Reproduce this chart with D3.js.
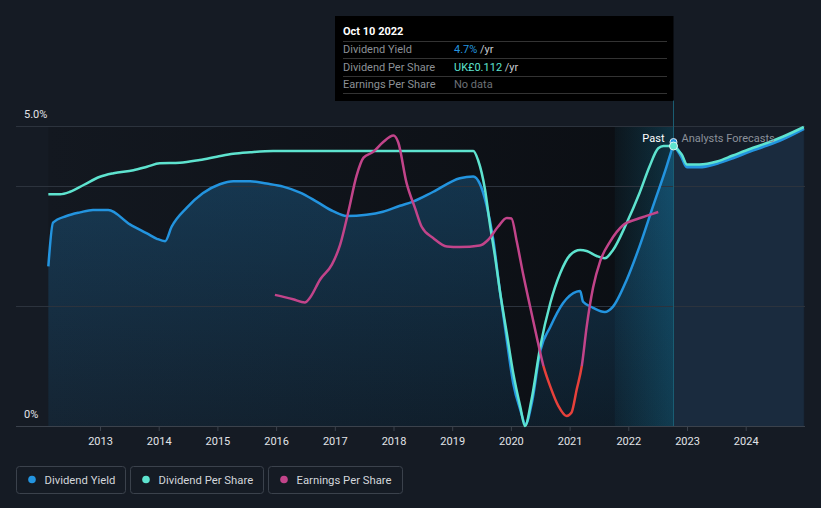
<!DOCTYPE html>
<html><head><meta charset="utf-8">
<script src="https://cdn.jsdelivr.net/npm/d3@7"></script>
<style>
html,body{margin:0;padding:0;background:#151b24;}
svg{display:block;font-family:Roboto,"Noto Sans",sans-serif;}
</style></head><body>
<svg id="c" width="821" height="508"></svg>
<script>
// ---------- DATA ----------
const yearTicks = [2013,2014,2015,2016,2017,2018,2019,2020,2021,2022,2023,2024];
const yieldTickLabels = ["0%","5.0%"];
const gridValues = [2,4,5];

const yieldYears = [2012.12,2012.2,2012.43,2012.66,2012.88,2013.14,2013.51,2013.8,2013.97,2014.11,2014.22,2014.48,2014.75,2015.04,2015.27,2015.56,2015.84,2016.12,2016.41,2016.69,2016.97,2017.2,2017.54,2017.82,2018.11,2018.33,2018.67,2019.13,2019.36,2019.47,2019.59,2019.7,2019.81,2019.93,2020.04,2020.16,2020.25,2020.36,2020.5,2020.67,2020.89,2021.12,2021.18,2021.23,2021.4,2021.6,2021.74,2021.97,2022.19,2022.42,2022.65,2022.77];
const yieldValues = [2.66,3.39,3.5,3.56,3.6,3.6,3.36,3.21,3.12,3.08,3.32,3.64,3.88,4.03,4.08,4.08,4.04,3.99,3.89,3.74,3.58,3.5,3.52,3.57,3.67,3.74,3.9,4.13,4.16,4.04,3.66,3.1,2.27,1.43,0.71,0.27,0.03,0.4,1.25,1.65,2.05,2.24,2.25,2.07,1.97,1.9,1.99,2.43,2.99,3.66,4.32,4.7];
const yieldFcYears = [2022.77,2022.91,2023.0,2023.21,2023.51,2023.78,2024.07,2024.36,2024.64,2024.99];
const yieldFcValues = [4.7,4.49,4.32,4.32,4.38,4.47,4.58,4.68,4.79,4.96];

const dpsYears = [2012.12,2012.32,2012.49,2012.72,2013.0,2013.23,2013.57,2013.8,2014.02,2014.36,2014.7,2014.99,2015.27,2015.56,2015.95,2018.11,2019.36,2019.44,2019.56,2019.64,2019.73,2019.81,2019.93,2020.04,2020.16,2020.24,2020.35,2020.5,2020.67,2020.84,2021.01,2021.18,2021.29,2021.46,2021.6,2021.74,2021.97,2022.19,2022.36,2022.51,2022.6,2022.77];
const dpsValues = [0.0927,0.0927,0.0937,0.0964,0.0997,0.1011,0.1023,0.1037,0.1051,0.1053,0.1064,0.1077,0.1089,0.1095,0.11,0.11,0.11,0.1064,0.0944,0.0811,0.0677,0.0544,0.0371,0.0211,0.0077,0.0,0.0104,0.0317,0.0491,0.0611,0.0684,0.0704,0.07,0.068,0.0671,0.0704,0.0811,0.0931,0.1037,0.1111,0.112,0.112];
const dpsFcYears = [2022.77,2022.91,2023.0,2023.21,2023.51,2023.78,2024.07,2024.36,2024.64,2024.99];
const dpsFcValues = [0.112,0.1086,0.1046,0.1046,0.1058,0.1082,0.1108,0.1132,0.1158,0.1196];

const epsYears = [2015.98,2016.29,2016.49,2016.58,2016.75,2016.95,2017.09,2017.23,2017.37,2017.49,2017.65,2017.82,2018.0,2018.08,2018.22,2018.37,2018.48,2018.68,2018.91,2019.13,2019.47,2019.61,2019.78,2019.93,2020.01,2020.1,2020.21,2020.33,2020.44,2020.55,2020.67,2020.81,2020.95,2021.03,2021.12,2021.21,2021.29,2021.4,2021.52,2021.69,2021.91,2022.14,2022.31,2022.51];
const epsValues = [0.036,0.0338,0.0322,0.0347,0.0438,0.0513,0.0613,0.078,0.0963,0.1055,0.1083,0.1133,0.1167,0.1133,0.093,0.0797,0.0705,0.0647,0.0605,0.0602,0.061,0.0638,0.0705,0.075,0.0747,0.063,0.0463,0.0297,0.0147,0.0005,-0.0103,-0.0203,-0.0253,-0.0237,-0.012,0.0005,0.0197,0.0397,0.053,0.063,0.0713,0.0743,0.076,0.078];

const seriesNames = ["Dividend Yield","Dividend Per Share","Earnings Per Share"];
const seriesColors = ["#2394df","#5ee3cf","#c2448a"];
const negColor = "#e8413b";
const tooltipDate = "Oct 10 2022";
const tooltipYear = 2022.77;
const tooltipValues = ["4.7%","UK£0.112","No data"];
const startYear = 2012.12;

// ---------- SCALES ----------
const x = d3.scaleLinear().domain([2013,2024]).range([100,745.7]);
const yY = d3.scaleLinear().domain([0,5]).range([426,126]);
const yD = d3.scaleLinear().domain([0,0.12]).range([426,126]);
const yE = d3.scaleLinear().domain([0,0.12]).range([366,129]);

const svg = d3.select("#c");
const defs = svg.append("defs");
const W = 821, pLeft = 16, pRight = 805, pTop = 126, pBottom = 426;
const xStart = x(startYear), xNow = x(tooltipYear), xEnd = pRight;

// gradients
const gPast = defs.append("linearGradient").attr("id","gPast").attr("x1",0).attr("x2",1).attr("y1",0).attr("y2",0);
gPast.append("stop").attr("offset",0).attr("stop-color","#131820");
gPast.append("stop").attr("offset",1).attr("stop-color","#0b0e13");
const gArea = defs.append("linearGradient").attr("id","gArea").attr("gradientUnits","userSpaceOnUse").attr("x1",0).attr("x2",0).attr("y1",pTop).attr("y2",pBottom);
gArea.append("stop").attr("offset",0).attr("stop-color","#2394df").attr("stop-opacity",0.3);
gArea.append("stop").attr("offset",1).attr("stop-color","#2394df").attr("stop-opacity",0.1);
const gBand = defs.append("linearGradient").attr("id","gBand").attr("x1",0).attr("x2",1).attr("y1",0).attr("y2",0);
gBand.append("stop").attr("offset",0).attr("stop-color","#1aa4d4").attr("stop-opacity",0.05);
gBand.append("stop").attr("offset",1).attr("stop-color","#1aa4d4").attr("stop-opacity",0.24);

defs.append("clipPath").attr("id","cPos").append("rect").attr("x",0).attr("y",0).attr("width",W).attr("height",yE(0));
defs.append("clipPath").attr("id","cNeg").append("rect").attr("x",0).attr("y",yE(0)).attr("width",W).attr("height",pBottom);

// backgrounds
svg.append("rect").attr("width",W).attr("height",508).attr("fill","#151b24");
svg.append("rect").attr("x",xStart).attr("y",pTop).attr("width",xNow-xStart).attr("height",pBottom-pTop).attr("fill","url(#gPast)");
svg.append("rect").attr("x",xNow).attr("y",pTop).attr("width",xEnd-xNow).attr("height",pBottom-pTop).attr("fill","#151c27");

const yieldPast = yieldYears.map((d,i)=>[d,yieldValues[i]]);
const yieldFc = yieldFcYears.map((d,i)=>[d,yieldFcValues[i]]);
const dpsPast = dpsYears.map((d,i)=>[d,dpsValues[i]]);
const dpsFc = dpsFcYears.map((d,i)=>[d,dpsFcValues[i]]);
const eps = epsYears.map((d,i)=>[d,epsValues[i]]);

const curve = d3.curveMonotoneX;
const areaY = d3.area().x(d=>x(d[0])).y0(pBottom).y1(d=>yY(d[1])).curve(curve);
svg.append("path").datum(yieldPast).attr("d",areaY).attr("fill","url(#gArea)");
svg.append("path").datum(yieldFc).attr("d",areaY).attr("fill","#1a2b3e");

// band
svg.append("rect").attr("x",x(tooltipYear-1)).attr("y",pTop).attr("width",xNow-x(tooltipYear-1)).attr("height",pBottom-pTop).attr("fill","url(#gBand)");

// gridlines
svg.append("g").selectAll("line").data(gridValues).join("line")
  .attr("x1",pLeft).attr("x2",pRight).attr("y1",d=>yY(d)+0.5).attr("y2",d=>yY(d)+0.5)
  .attr("stroke","#2c333d").attr("stroke-width",1);

// now line
svg.append("line").attr("x1",xNow).attr("x2",xNow).attr("y1",100).attr("y2",pBottom).attr("stroke","#1b5f74").attr("stroke-width",1);

// axis
svg.append("line").attr("x1",pLeft).attr("x2",pRight).attr("y1",pBottom+0.5).attr("y2",pBottom+0.5).attr("stroke","#3b424c").attr("stroke-width",1);
const ax = svg.append("g").attr("transform",`translate(0,${pBottom})`)
  .call(d3.axisBottom(x).tickValues(yearTicks).tickFormat(d3.format("d")).tickSize(5).tickPadding(6));
ax.select(".domain").remove();
ax.selectAll("line").attr("stroke","#3b424c");
ax.selectAll("text").attr("fill","#e2e4e8").attr("font-size",11).attr("font-family","Roboto,sans-serif");

// y labels
svg.append("g").selectAll("text").data([0,5]).join("text")
  .attr("x",24).attr("y",d=>yY(d)-8).attr("fill","#e2e4e8").attr("font-size",11)
  .text((d,i)=>yieldTickLabels[i]);

// lines
const lineY = d3.line().x(d=>x(d[0])).y(d=>yY(d[1])).curve(curve);
const lineD = d3.line().x(d=>x(d[0])).y(d=>yD(d[1])).curve(curve);
const lineE = d3.line().x(d=>x(d[0])).y(d=>yE(d[1])).curve(curve);
svg.append("path").datum(yieldPast).attr("d",lineY).attr("fill","none").attr("stroke",seriesColors[0]).attr("stroke-width",2.5);
svg.append("path").datum(yieldFc).attr("d",lineY).attr("fill","none").attr("stroke",seriesColors[0]).attr("stroke-width",3.5);
svg.append("path").datum(dpsPast).attr("d",lineD).attr("fill","none").attr("stroke",seriesColors[1]).attr("stroke-width",2.5);
svg.append("path").datum(dpsFc).attr("d",lineD).attr("fill","none").attr("stroke",seriesColors[1]).attr("stroke-width",2.5);
svg.append("path").datum(eps).attr("d",lineE).attr("fill","none").attr("stroke",seriesColors[2]).attr("stroke-width",2.5).attr("clip-path","url(#cPos)");
svg.append("path").datum(eps).attr("d",lineE).attr("fill","none").attr("stroke",negColor).attr("stroke-width",2.5).attr("clip-path","url(#cNeg)");

// markers
svg.append("circle").attr("cx",xNow).attr("cy",yY(yieldValues[yieldValues.length-1])-2).attr("r",3.5).attr("fill",seriesColors[0]).attr("stroke","#dfe8f0").attr("stroke-width",1);
svg.append("circle").attr("cx",xNow).attr("cy",yD(dpsValues[dpsValues.length-1])).attr("r",4).attr("fill",seriesColors[1]).attr("stroke","#dff5f2").attr("stroke-width",1);

// Past / Forecast labels
svg.append("text").attr("x",xNow-9).attr("y",142).attr("text-anchor","end").attr("fill","#ffffff").attr("font-size",11).text("Past");
svg.append("text").attr("x",xNow+8).attr("y",142).attr("fill","#8b919a").attr("font-size",11).text("Analysts Forecasts");

// tooltip
const tt = svg.append("g");
tt.append("rect").attr("x",335).attr("y",16).attr("width",xNow-335).attr("height",85).attr("fill","#000");
tt.append("text").attr("x",343).attr("y",35).attr("fill","#fff").attr("font-size",11).attr("font-weight","bold").text(tooltipDate);
[41.5,58.5,76.5,93.5].forEach(yy=>tt.append("line").attr("x1",343).attr("x2",667).attr("y1",yy).attr("y2",yy).attr("stroke","#333").attr("stroke-width",1));
const valColors = [seriesColors[0],seriesColors[1],"#6d7177"];
seriesNames.forEach((n,i)=>{
  const by = 53 + i*17.5;
  tt.append("text").attr("x",343).attr("y",by).attr("fill","#8c9096").attr("font-size",11).text(n);
  const t = tt.append("text").attr("x",454).attr("y",by).attr("font-size",11);
  t.append("tspan").attr("fill",valColors[i]).text(tooltipValues[i]);
  if(i<2) t.append("tspan").attr("fill","#c8cbd0").text(" /yr");
});

// legend
const lg = svg.append("g");
const boxes = [[16.5,109],[130.5,133],[268.5,134]];
seriesNames.forEach((n,i)=>{
  const [bx,bw] = boxes[i];
  lg.append("rect").attr("x",bx).attr("y",466.5).attr("width",bw).attr("height",27).attr("rx",3).attr("fill","none").attr("stroke","#3b424c");
  lg.append("circle").attr("cx",bx+15.5).attr("cy",479.5).attr("r",3.8).attr("fill",seriesColors[i]);
  lg.append("text").attr("x",bx+28).attr("y",483.5).attr("fill","#d3d6db").attr("font-size",11.3).text(n);
});
</script>
</body></html>
